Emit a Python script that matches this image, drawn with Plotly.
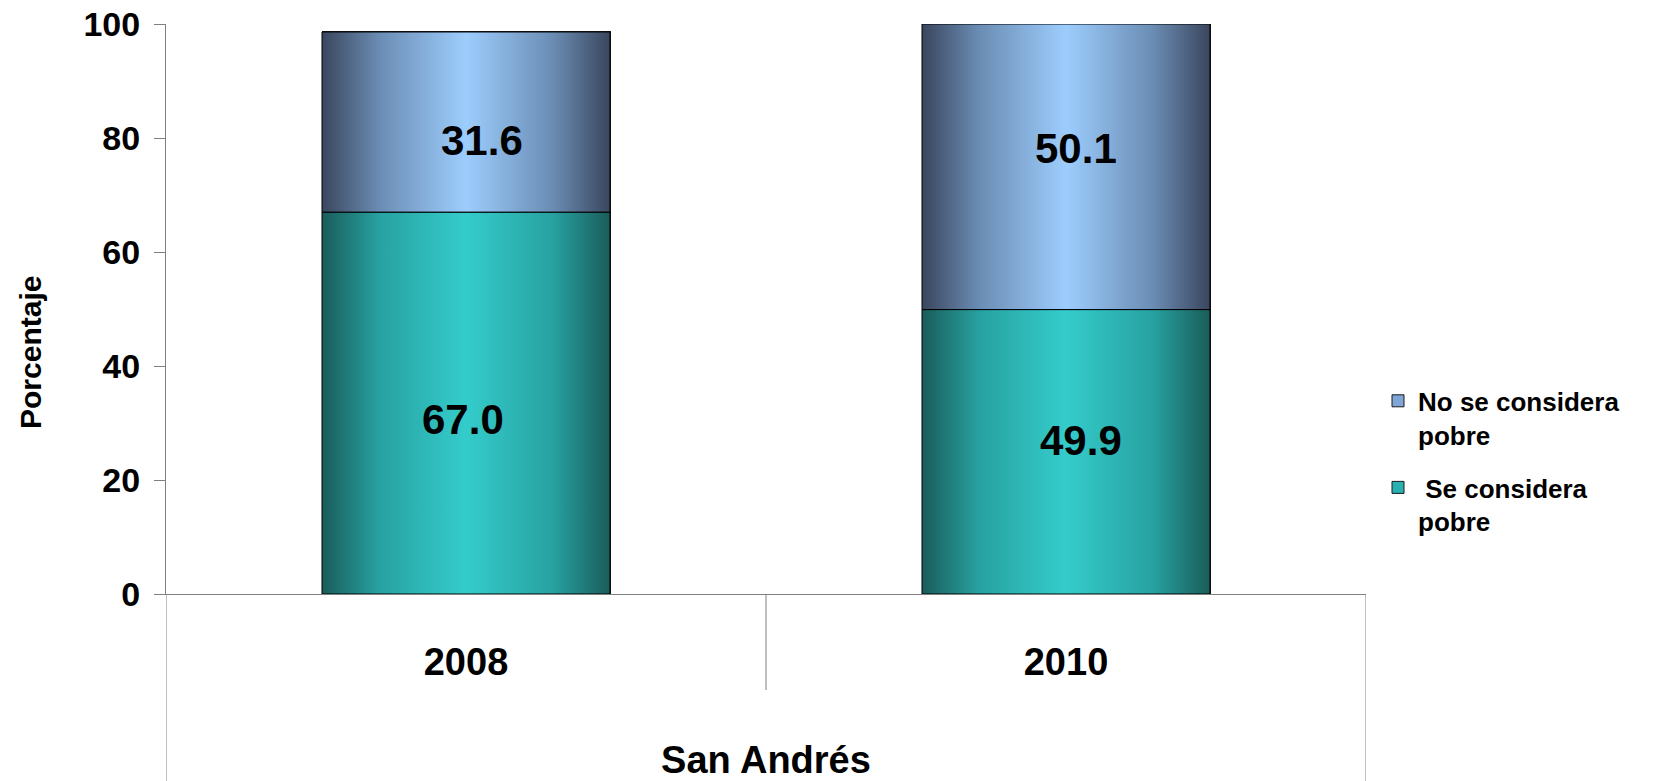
import plotly.graph_objects as go

# ---- data ----
years = ["2008", "2010"]
region = "San Andrés"
y_title = "Porcentaje"
se_considera_pobre = [67.0, 49.9]
no_se_considera_pobre = [31.6, 50.1]
series_names = [" Se considera<br>pobre", "No se considera<br>pobre"]
y_ticks = [0, 20, 40, 60, 80, 100]

# ---- style ----
FONT = "Liberation Sans, Arial, sans-serif"
BAR_WIDTH = 0.48
# small pixel nudges of the value labels, as placed in the original chart (xshift, yshift)
label_nudges = [[(-3, -16), (15, 11)], [(16, -18), (10, 18)]]

blue_scale = [[0, "#3a465e"], [0.2, "#6b8db4"], [0.5, "#9dcdfd"], [0.8, "#6b8db4"], [1, "#3a465e"]]
teal_scale = [[0, "#1a5c5a"], [0.2, "#27a2a1"], [0.5, "#34cccb"], [0.8, "#27a2a1"], [1, "#1a5c5a"]]

W, H = 1670, 781
ML, MT, MB, MR = 166, 24, 187, 304
plot_h = H - MT - MB
plot_w = W - ML - MR

xs = list(range(len(years)))
fig = go.Figure()

series = [
    (series_names[0], se_considera_pobre, [0] * len(years), "#2ab0b0", teal_scale, "g1", 2),
    (series_names[1], no_se_considera_pobre, se_considera_pobre, "#7fa6d6", blue_scale, "g2", 1),
]

# bars (structure + legend)
for name, vals, bases, col, _, grp, rank in series:
    fig.add_trace(go.Bar(
        x=xs, y=vals, base=bases, name=name, width=BAR_WIDTH, legendgroup=grp,
        legendrank=rank,
        marker=dict(color=col, line=dict(color="#1a1a1a", width=1)),
    ))

# gradient overlays derived from bar geometry
for name, vals, bases, col, cs, grp, rank in series:
    for i, (v, b) in enumerate(zip(vals, bases)):
        x0, x1 = xs[i] - BAR_WIDTH / 2, xs[i] + BAR_WIDTH / 2
        fig.add_trace(go.Scatter(
            x=[x0, x1, x1, x0, x0], y=[b, b, b + v, b + v, b],
            mode="lines", fill="toself", legendgroup=grp,
            fillgradient=dict(type="horizontal", colorscale=cs),
            line=dict(color="#000000", width=1),
            showlegend=False, hoverinfo="skip",
        ))

# value labels
for s, (name, vals, bases, col, cs, grp, rank) in enumerate(series):
    for i, (v, b) in enumerate(zip(vals, bases)):
        dx, dy = label_nudges[s][i]
        fig.add_annotation(x=xs[i], y=b + v / 2, text=f"{v:.1f}", showarrow=False,
                           xshift=dx, yshift=dy,
                           font=dict(family=FONT, size=42, color="#000000", weight="bold"),
                           xref="x", yref="y")

# y-axis title (placed as in the original, slightly below the plot centre)
fig.add_annotation(text=y_title, textangle=-90, showarrow=False,
                   xref="paper", yref="paper", x=-136 / plot_w, y=1 - 329 / plot_h,
                   xanchor="center", yanchor="middle",
                   font=dict(family=FONT, size=30, color="#000000", weight="bold"))

# category dividers below the axis
for xv, depth in [(-0.5, -MB / plot_h), (0.5, -96 / plot_h), (1.5, -MB / plot_h)]:
    fig.add_shape(type="line", xref="x", yref="paper", x0=xv, x1=xv, y0=0, y1=depth,
                  line=dict(color="#808080", width=1))

fig.update_layout(
    width=W, height=H,
    barmode="stack",
    plot_bgcolor="white", paper_bgcolor="white",
    margin=dict(l=ML, r=MR, t=MT, b=MB, autoexpand=False),
    font=dict(family=FONT, color="#000000"),
    showlegend=True,
    legend=dict(x=1.01, y=0.38, xanchor="left", yanchor="top", valign="top",
                font=dict(family=FONT, size=26, color="#000000", weight="bold"),
                traceorder="grouped", tracegroupgap=16, itemwidth=30),
)
fig.update_xaxes(
    range=[-0.5, 1.5], tickvals=xs, ticktext=years, showgrid=False, zeroline=False,
    showline=True, linecolor="#808080", linewidth=1, ticks="",
    tickfont=dict(family=FONT, size=38, color="#000000", weight="bold"),
    ticklabelstandoff=34,
    title=dict(text=region, font=dict(family=FONT, size=38, color="#000000", weight="bold"),
               standoff=64),
)
fig.update_yaxes(
    range=[0, 100], tickvals=y_ticks, showgrid=False, zeroline=False,
    showline=True, linecolor="#808080", linewidth=1, ticks="outside", ticklen=11,
    tickcolor="#808080", tickfont=dict(family=FONT, size=34, color="#000000", weight="bold"),
    ticklabelstandoff=7, ticklabeloverflow="allow",
)

fig.write_html("out.html", config={"displayModeBar": False},
               post_script="document.body.style.margin='0';")
